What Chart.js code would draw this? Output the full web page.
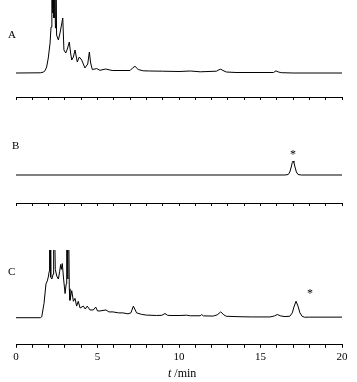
<!DOCTYPE html>
<html>
<head>
<meta charset="utf-8">
<script src="https://cdn.jsdelivr.net/npm/chart.js@4"></script>
<style>
  html, body { margin:0; padding:0; background:#fff; }
  #wrap { position:relative; width:357px; height:382px; overflow:hidden; font-family:"Liberation Serif", "Times New Roman", serif; color:#000; }
  .pane { position:absolute; left:0; width:357px; }
  .lbl { position:absolute; line-height:1; white-space:nowrap; }
</style>
</head>
<body>
<div id="wrap">
  <div class="pane" style="top:0px;height:100px"><canvas id="cA" width="357" height="100"></canvas></div>
  <div class="pane" style="top:100px;height:106px"><canvas id="cB" width="357" height="106"></canvas></div>
  <div class="pane" style="top:250px;height:132px"><canvas id="cC" width="357" height="132"></canvas></div>
  <div class="lbl" style="left:8px;top:29px;font-size:11px">A</div>
  <div class="lbl" style="left:12px;top:140px;font-size:11px">B</div>
  <div class="lbl" style="left:8px;top:266px;font-size:11px">C</div>
  <div class="lbl" style="left:290px;top:148px;font-size:12px">*</div>
  <div class="lbl" style="left:307px;top:287px;font-size:12px">*</div>
  <div class="lbl" style="left:168px;top:367px;font-size:12px"><i>t</i> /min</div>
</div>
<script>
// Chromatogram A (time in min, response)
const timeA = [0, 1.5, 1.7, 1.8, 1.88, 1.98, 2.09, 2.15, 2.2, 2.25, 2.28, 2.33, 2.36, 2.42, 2.45, 2.49, 2.6, 2.7, 2.87, 2.94, 3.05, 3.15, 3.27, 3.35, 3.42, 3.52, 3.62, 3.76, 3.88, 4.03, 4.23, 4.4, 4.5, 4.58, 4.68, 4.95, 5.15, 5.5, 5.9, 6.5, 7.0, 7.15, 7.3, 7.5, 7.8, 8.2, 9.0, 10.0, 10.7, 11.3, 12.3, 12.45, 12.56, 12.7, 12.9, 13.5, 15.8, 15.95, 16.1, 16.3, 17.0, 20.0];
const respA = [0, 0.2, 1, 3, 6, 15, 30, 46, 100, 60, 100, 55, 100, 45, 100, 38, 33, 40, 55, 23, 20, 24, 31, 20, 13, 16, 23, 11, 16, 13, 5, 9, 21, 10, 3.5, 4.4, 2.7, 4, 2.5, 2.5, 2.5, 5, 6.7, 3.5, 2.2, 2, 1.8, 1.5, 2, 1.2, 1.8, 3.2, 3.8, 2.5, 1, 0.5, 0.5, 2.2, 1, 0.3, 0, 0];

// Chromatogram B (standard)
const timeB = [0, 16.5, 16.7, 16.8, 16.9, 16.95, 17.0, 17.05, 17.1, 17.2, 17.3, 17.5, 20.0];
const respB = [0, 0, 0.5, 3, 9, 12.5, 14, 12.5, 9, 3, 0.5, 0, 0];

// Chromatogram C (sample)
const timeC = [0, 1.5, 1.58, 1.72, 1.84, 1.92, 1.98, 2.04, 2.06, 2.1, 2.13, 2.2, 2.28, 2.31, 2.36, 2.41, 2.5, 2.6, 2.68, 2.74, 2.78, 2.84, 2.92, 3.01, 3.08, 3.11, 3.15, 3.17, 3.19, 3.23, 3.27, 3.31, 3.42, 3.52, 3.62, 3.72, 3.82, 3.93, 4.13, 4.25, 4.37, 4.54, 4.74, 4.89, 5.0, 5.15, 5.52, 5.7, 5.95, 6.3, 6.56, 6.87, 7.05, 7.2, 7.4, 7.7, 8.0, 8.63, 8.95, 9.14, 9.3, 9.45, 10.06, 10.47, 10.7, 11.3, 11.39, 11.5, 12.1, 12.35, 12.56, 12.75, 12.9, 13.74, 14.5, 15.58, 15.85, 16.03, 16.25, 16.5, 16.8, 16.95, 17.05, 17.18, 17.3, 17.42, 17.55, 17.7, 18.0, 20.0];
const respC = [0, 0, 1, 15, 35, 38, 42, 48, 100, 100, 42, 40, 45, 100, 100, 50, 43, 40, 48, 55, 50, 56, 40, 25, 35, 100, 100, 40, 100, 100, 30, 18, 28, 17, 20, 12, 17, 10, 12, 9, 12, 8, 8, 11, 7, 7, 8, 6, 6, 5, 5, 4, 5, 12, 5, 3.5, 2.7, 2.3, 2.5, 4.3, 2.5, 2.3, 2.3, 2.6, 2, 2, 3.2, 1.9, 1.7, 3, 6, 3, 1.5, 1, 0.8, 0.8, 1.8, 3.3, 1.8, 1.2, 1.5, 5, 11, 17, 12, 5, 1.5, 0.5, 0.6, 0.6];

const xTicksMin = 0, xTicksMax = 20, xStep = 1;
const labelEvery = 5;

function pts(t, r) { return t.map((v, i) => ({ x: v, y: r[i] })); }

function makeChart(id, t, r, yMin, yMax, showLabels, padBottom) {
  new Chart(document.getElementById(id), {
    type: 'line',
    data: { datasets: [{ data: pts(t, r), borderColor: '#000', borderWidth: 1, pointRadius: 0, tension: 0, fill: false }] },
    options: {
      responsive: false, animation: false, events: [],
      layout: { padding: { left: 16, right: 15, top: 0, bottom: padBottom } },
      plugins: { legend: { display: false }, tooltip: { enabled: false } },
      scales: {
        x: {
          type: 'linear', min: xTicksMin, max: xTicksMax,
          border: { display: true, color: '#000', width: 1 },
          grid: { drawOnChartArea: false, drawTicks: true, tickLength: 3, color: '#000' },
          ticks: {
            display: showLabels, stepSize: xStep, autoSkip: false, maxRotation: 0, padding: 3,
            color: '#000', font: { family: 'Liberation Serif', size: 11 },
            callback: v => (v % labelEvery === 0 ? String(v) : '')
          }
        },
        y: { display: false, min: yMin, max: yMax }
      }
    }
  });
}

makeChart('cA', timeA, respA, -24, 73, false, 0);
makeChart('cB', timeB, respB, -28, 75, false, 0);
makeChart('cC', timeC, respC, -28, 70, true, 15);
</script>
</body>
</html>
